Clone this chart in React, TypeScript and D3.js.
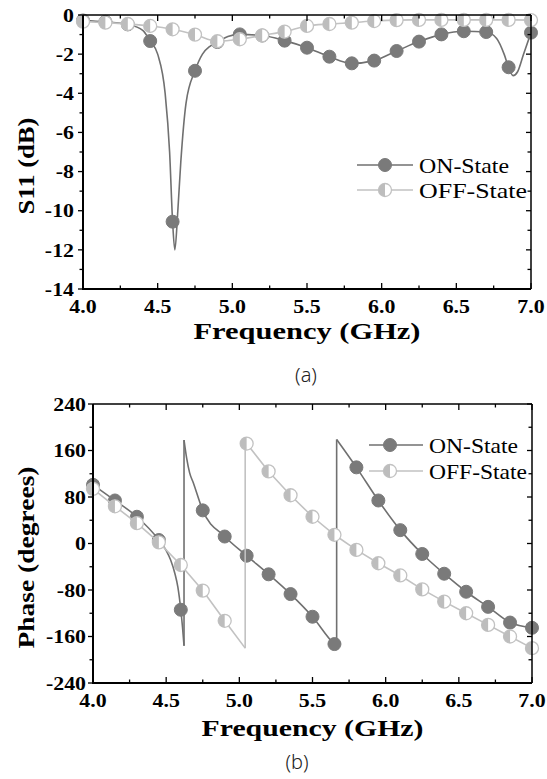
import React from "react";
import * as d3 from "d3";

// ---------- DATA ----------
const markerFreqs = [4.0, 4.15, 4.3, 4.45, 4.6, 4.75, 4.9, 5.05, 5.2, 5.35, 5.5, 5.65, 5.8, 5.95, 6.1, 6.25, 6.4, 6.55, 6.7, 6.85, 7.0];

// (a) S11 (dB)
const onS11Markers = [-0.28, -0.35, -0.48, -1.33, -10.56, -2.85, -1.38, -0.99, -1.05, -1.31, -1.67, -2.13, -2.47, -2.33, -1.84, -1.36, -0.99, -0.83, -0.87, -2.67, -0.9];
const offS11Markers = [-0.34, -0.39, -0.46, -0.56, -0.73, -1.0, -1.34, -1.24, -1.04, -0.85, -0.56, -0.46, -0.39, -0.31, -0.26, -0.25, -0.25, -0.25, -0.25, -0.25, -0.26];
const onS11CurveFreq = [4.0, 4.15, 4.3, 4.4, 4.45, 4.5, 4.55, 4.58, 4.6, 4.615, 4.635, 4.655, 4.69, 4.75, 4.8, 4.85, 4.9, 4.97, 5.05, 5.2, 5.35, 5.5, 5.65, 5.8, 5.95, 6.1, 6.25, 6.4, 6.55, 6.7, 6.77, 6.82, 6.85, 6.88, 6.91, 6.95, 7.0];
const onS11CurveVal = [-0.28, -0.35, -0.48, -0.78, -1.33, -2.0, -4.0, -7.0, -10.56, -12.0, -10.0, -7.5, -4.5, -2.85, -2.0, -1.6, -1.38, -1.1, -0.99, -1.05, -1.31, -1.67, -2.13, -2.47, -2.33, -1.84, -1.36, -0.99, -0.83, -0.87, -1.2, -2.0, -2.67, -3.1, -2.9, -2.0, -0.9];

// (b) Phase (degrees)
const onPhaseMarkers = [101, 74, 46, 6, -114, 57, 12, -21, -53, -87, -126, -173, 131, 74, 23, -18, -52, -83, -109, -136, -145];
const offPhaseMarkers = [94, 64, 35, 2, -37, -81, -133, 172, 124, 83, 46, 15, -11, -34, -55, -79, -100, -120, -140, -160, -180];
const onPhaseBranch1: [number, number][] = [[4.0, 101], [4.15, 74], [4.3, 46], [4.45, 6], [4.5, -12], [4.53, -28], [4.56, -52], [4.58, -75], [4.6, -114], [4.612, -145], [4.622, -176]];
const onPhaseBranch2: [number, number][] = [[4.622, 178], [4.64, 147], [4.66, 122], [4.686, 104], [4.75, 57], [4.9, 12], [5.05, -21], [5.2, -53], [5.35, -87], [5.5, -126], [5.65, -173], [5.665, -176]];
const onPhaseBranch3: [number, number][] = [[5.665, 179], [5.8, 131], [5.95, 74], [6.1, 23], [6.25, -18], [6.4, -52], [6.55, -83], [6.7, -109], [6.85, -136], [7.0, -145]];
const offPhaseBranch1: [number, number][] = [[4.0, 94], [4.15, 64], [4.3, 35], [4.45, 2], [4.6, -37], [4.75, -81], [4.9, -133], [5.04, -180]];
const offPhaseBranch2: [number, number][] = [[5.04, 175], [5.05, 172], [5.2, 124], [5.35, 83], [5.5, 46], [5.65, 15], [5.8, -11], [5.95, -34], [6.1, -55], [6.25, -79], [6.4, -100], [6.55, -120], [6.7, -140], [6.85, -160], [7.0, -180]];

const freqTicks = [4.0, 4.25, 4.5, 4.75, 5.0, 5.25, 5.5, 5.75, 6.0, 6.25, 6.5, 6.75, 7.0];
const freqLabels = [4.0, 4.5, 5.0, 5.5, 6.0, 6.5, 7.0];
const s11Ticks = [0, -1, -2, -3, -4, -5, -6, -7, -8, -9, -10, -11, -12, -13, -14];
const s11Labels = [0, -2, -4, -6, -8, -10, -12, -14];
const phaseTicks = [240, 200, 160, 120, 80, 40, 0, -40, -80, -120, -160, -200, -240];
const phaseLabels = [240, 160, 80, 0, -80, -160, -240];
const seriesNames = ["ON-State", "OFF-State"];

// ---------- STYLE ----------
const ON_LINE = "#707070";
const ON_FILL = "#7a7a7a";
const OFF_LINE = "#c2c2c2";
const OFF_FILL = "#bdbdbd";
const SERIF = "'Liberation Serif', 'Times New Roman', serif";
const R = 6.5;

function OnMarker({ x, y }: { x: number; y: number }) {
  return <circle cx={x} cy={y} r={R} fill={ON_FILL} stroke={ON_FILL} strokeWidth={1} />;
}
function OffMarker({ x, y }: { x: number; y: number }) {
  return (
    <g>
      <circle cx={x} cy={y} r={R} fill="#ffffff" stroke={OFF_LINE} strokeWidth={1.3} />
      <path d={`M${x},${y - R} A${R},${R} 0 0 0 ${x},${y + R} Z`} fill={OFF_FILL} />
    </g>
  );
}

function STxt(props: { x: number; y: number; sx?: number; anchor?: string; size: number; bold?: boolean; children: any; dy?: string }) {
  const { x, y, sx = 1.15, anchor = "middle", size, bold = true, children, dy } = props;
  return (
    <text transform={`translate(${x},${y}) scale(${sx},1)`} textAnchor={anchor} fontFamily={SERIF} fontWeight={bold ? "bold" : "normal"} fontSize={size} dy={dy} fill="#000">
      {children}
    </text>
  );
}

type Frame = { left: number; right: number; top: number; bottom: number };

function Axes({ fr, x, y, yTicks, yLabels, yMajorEvery, xTitleY, xTitleLen, yTitle, yTitleX, yTitleLen, labelRight, labelFmt }: any) {
  const els: any[] = [];
  els.push(<line key="fl" x1={fr.left} x2={fr.left} y1={fr.top} y2={fr.bottom + 1} stroke="#000" strokeWidth={2} />);
  els.push(<line key="fb" x1={fr.left - 1} x2={fr.right} y1={fr.bottom} y2={fr.bottom} stroke="#000" strokeWidth={2} />);
  els.push(<line key="ft" x1={fr.left} x2={fr.right} y1={fr.top} y2={fr.top} stroke="#000" strokeWidth={1.5} />);
  els.push(<line key="fr" x1={fr.right} x2={fr.right} y1={fr.top} y2={fr.bottom} stroke="#000" strokeWidth={1.5} />);
  freqTicks.forEach((f: number, i: number) => {
    const px = x(f);
    const major = Math.abs(f * 2 - Math.round(f * 2)) < 1e-6;
    const len = major ? 6 : 3.5;
    els.push(<line key={"xb" + i} x1={px} x2={px} y1={fr.bottom} y2={fr.bottom - len} stroke="#000" strokeWidth={1.3} />);
    els.push(<line key={"xt" + i} x1={px} x2={px} y1={fr.top} y2={fr.top + len} stroke="#000" strokeWidth={1.3} />);
  });
  yTicks.forEach((v: number, i: number) => {
    const py = y(v);
    const major = Math.abs(v) % yMajorEvery === 0;
    const len = major ? 5 : 3.5;
    els.push(<line key={"yl" + i} x1={fr.left} x2={fr.left - len} y1={py} y2={py} stroke="#000" strokeWidth={1.3} />);
    els.push(<line key={"yr" + i} x1={fr.right} x2={fr.right - len} y1={py} y2={py} stroke="#000" strokeWidth={1.3} />);
  });
  freqLabels.forEach((f: number, i: number) => {
    els.push(
      <STxt key={"xl" + i} x={x(f)} y={fr.bottom + 24} size={19}>
        {f.toFixed(1)}
      </STxt>
    );
  });
  yLabels.forEach((v: number, i: number) => {
    els.push(
      <STxt key={"ylb" + i} x={labelRight} y={y(v)} size={19} anchor="end" dy="0.35em">
        {labelFmt(v)}
      </STxt>
    );
  });
  els.push(
    <text key="xtitle" x={(fr.left + fr.right) / 2} y={xTitleY} textAnchor="middle" fontFamily={SERIF} fontWeight="bold" fontSize={23} textLength={xTitleLen} lengthAdjust="spacingAndGlyphs">
      Frequency (GHz)
    </text>
  );
  els.push(
    <text key="ytitle" transform={`translate(${yTitleX},${(fr.top + fr.bottom) / 2 + 14}) rotate(-90)`} textAnchor="middle" fontFamily={SERIF} fontWeight="bold" fontSize={23} textLength={yTitleLen} lengthAdjust="spacingAndGlyphs">
      {yTitle}
    </text>
  );
  return <g>{els}</g>;
}

function Legend({ x0, x1, mx, tx, y0, y1, onLen, offLen }: any) {
  return (
    <g>
      <line x1={x0} x2={x1} y1={y0} y2={y0} stroke={ON_LINE} strokeWidth={1.6} />
      <OnMarker x={mx} y={y0} />
      <text x={tx} y={y0 + 7.5} fontFamily={SERIF} fontSize={22} textLength={onLen} lengthAdjust="spacingAndGlyphs">
        {seriesNames[0]}
      </text>
      <line x1={x0} x2={x1} y1={y1} y2={y1} stroke={OFF_LINE} strokeWidth={1.6} />
      <OffMarker x={mx} y={y1} />
      <text x={tx} y={y1 + 7.5} fontFamily={SERIF} fontSize={22} textLength={offLen} lengthAdjust="spacingAndGlyphs">
        {seriesNames[1]}
      </text>
    </g>
  );
}

export default function App() {
  const frA: Frame = { left: 83, right: 531, top: 15, bottom: 289 };
  const xA = d3.scaleLinear().domain([4, 7]).range([frA.left, frA.right]);
  const yA = d3.scaleLinear().domain([-14, 0]).range([frA.bottom, frA.top]);
  const lineA = d3.line<number>().x((_, i) => xA(onS11CurveFreq[i])).y((v) => yA(v)).curve(d3.curveMonotoneX);
  const lineAoff = d3.line<number>().x((_, i) => xA(markerFreqs[i])).y((v) => yA(v)).curve(d3.curveMonotoneX);

  const frB: Frame = { left: 93, right: 532, top: 404, bottom: 683 };
  const xB = d3.scaleLinear().domain([4, 7]).range([frB.left, frB.right]);
  const yB = d3.scaleLinear().domain([-240, 240]).range([frB.bottom, frB.top]);
  const lineB = d3.line<[number, number]>().x((d) => xB(d[0])).y((d) => yB(d[1])).curve(d3.curveMonotoneX);
  const lineBstraight = d3.line<[number, number]>().x((d) => xB(d[0])).y((d) => yB(d[1]));
  const onBranches = [onPhaseBranch1, onPhaseBranch2, onPhaseBranch3];
  const offBranches = [offPhaseBranch1, offPhaseBranch2];
  const jumps = (br: [number, number][][]) =>
    br.slice(0, -1).map((b, i) => [b[b.length - 1], br[i + 1][0]] as [number, number][]);

  return (
    <svg width={547} height={779} style={{ position: "absolute", left: 0, top: 0, background: "#fff" }}>
      <rect width={547} height={779} fill="#fff" />
      {/* ===== (a) ===== */}
      <path d={lineA(onS11CurveVal) || ""} fill="none" stroke={ON_LINE} strokeWidth={1.6} />
      {markerFreqs.map((f, i) => (
        <OnMarker key={"oa" + i} x={xA(f)} y={yA(onS11Markers[i])} />
      ))}
      <path d={lineAoff(offS11Markers) || ""} fill="none" stroke={OFF_LINE} strokeWidth={1.6} />
      {markerFreqs.map((f, i) => (
        <OffMarker key={"fa" + i} x={xA(f)} y={yA(offS11Markers[i])} />
      ))}
      <Axes
        fr={frA}
        x={xA}
        y={yA}
        yTicks={s11Ticks}
        yLabels={s11Labels}
        yMajorEvery={2}
        xTitleY={339}
        xTitleLen={227}
        yTitle="S11 (dB)"
        yTitleX={34}
        yTitleLen={97}
        labelRight={74}
        labelFmt={(v: number) => String(v)}
      />
      <Legend x0={357} x1={413} mx={385} tx={419} y0={165} y1={190} onLen={90} offLen={108} />
      <text x={306} y={382} textAnchor="middle" fontFamily="'Noto Sans', 'DejaVu Sans', sans-serif" fontWeight={300} fontSize={20} fill="#222">
        (a)
      </text>

      {/* ===== (b) ===== */}
      {onBranches.map((b, i) => (
        <path key={"ob" + i} d={lineB(b) || ""} fill="none" stroke={ON_LINE} strokeWidth={1.6} />
      ))}
      {jumps(onBranches).map((j, i) => (
        <path key={"oj" + i} d={lineBstraight(j) || ""} fill="none" stroke={ON_LINE} strokeWidth={1.6} />
      ))}
      {markerFreqs.map((f, i) => (
        <OnMarker key={"obm" + i} x={xB(f)} y={yB(onPhaseMarkers[i])} />
      ))}
      {offBranches.map((b, i) => (
        <path key={"fb" + i} d={lineBstraight(b) || ""} fill="none" stroke={OFF_LINE} strokeWidth={1.6} />
      ))}
      {jumps(offBranches).map((j, i) => (
        <path key={"fj" + i} d={lineBstraight(j) || ""} fill="none" stroke={OFF_LINE} strokeWidth={1.6} />
      ))}
      {markerFreqs.map((f, i) => (
        <OffMarker key={"fbm" + i} x={xB(f)} y={yB(offPhaseMarkers[i])} />
      ))}
      <Axes
        fr={frB}
        x={xB}
        y={yB}
        yTicks={phaseTicks}
        yLabels={phaseLabels}
        yMajorEvery={80}
        xTitleY={736}
        xTitleLen={222}
        yTitle="Phase (degrees)"
        yTitleX={34}
        yTitleLen={182}
        labelRight={86}
        labelFmt={(v: number) => String(v)}
      />
      <Legend x0={369} x1={423} mx={390} tx={429} y0={445} y1={471} onLen={89} offLen={98} />
      <text x={297} y={769} textAnchor="middle" fontFamily="'Noto Sans', 'DejaVu Sans', sans-serif" fontWeight={300} fontSize={20} fill="#222">
        (b)
      </text>
    </svg>
  );
}
